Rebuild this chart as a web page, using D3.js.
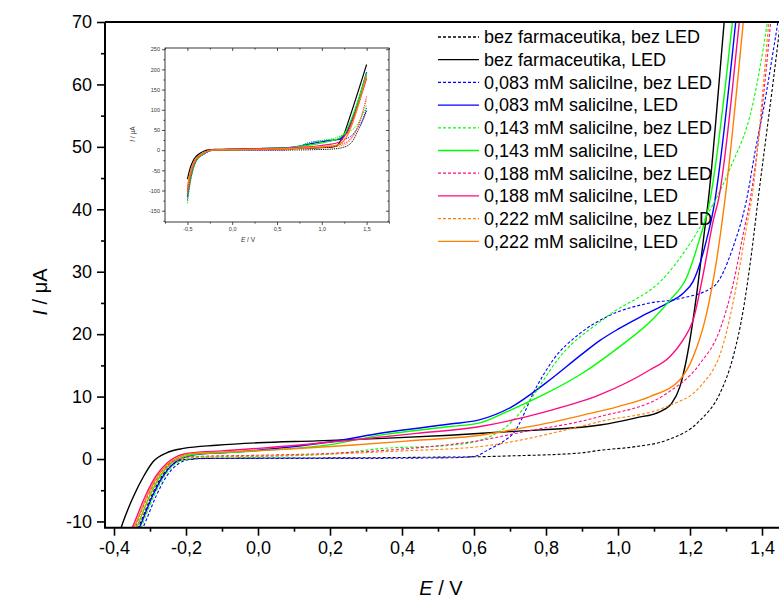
<!DOCTYPE html>
<html><head><meta charset="utf-8">
<script src="https://cdn.jsdelivr.net/npm/d3@7"></script>
<style>body{margin:0;background:#fff}svg text{font-family:Arial,"Liberation Sans",sans-serif}</style>
</head><body><svg id="c" width="779" height="601"></svg>
<script>
// ---- data ----
const seriesNames = [
  "bez farmaceutika, bez LED","bez farmaceutika, LED",
  "0,083 mM salicilne, bez LED","0,083 mM salicilne, LED",
  "0,143 mM salicilne, bez LED","0,143 mM salicilne, LED",
  "0,188 mM salicilne, bez LED","0,188 mM salicilne, LED",
  "0,222 mM salicilne, bez LED","0,222 mM salicilne, LED"];
const seriesColors = ["#000000","#000000","#0000ff","#0000ff","#00ff00","#00ff00","#ff0a80","#ff0a80","#ff8000","#ff8000"];
const seriesDashed = [true,false,true,false,true,false,true,false,true,false];

const bezFarmBezLED = [[-0.5,-108],[-0.47,-70],[-0.44,-44],[-0.41,-27],[-0.37,-16],[-0.325,-10],[-0.295,-5.8],[-0.265,-2.6],[-0.235,-0.8],[-0.205,-0.1],[-0.15,0.1],[0,0.15],[0.3,0.2],[0.5,0.3],[0.617,0.37],[0.7,0.5],[0.894,0.96],[0.95,1.4],[1.05,2.0],[1.135,3.0],[1.228,6.2],[1.283,10.5],[1.32,16.4],[1.348,23.9],[1.371,33],[1.39,42],[1.41,51],[1.43,60],[1.447,68],[1.5,98]];
const bezFarmLED = [[-0.5,-72],[-0.47,-45],[-0.44,-28],[-0.41,-17],[-0.376,-10.3],[-0.346,-6.0],[-0.318,-2.8],[-0.291,-0.4],[-0.254,1.0],[-0.207,1.7],[-0.115,2.2],[0,2.6],[0.163,2.9],[0.348,3.3],[0.533,3.8],[0.7,4.4],[0.95,5.45],[1.05,6.6],[1.117,7.6],[1.149,8.9],[1.172,11.6],[1.19,15.9],[1.219,26.6],[1.237,35],[1.251,41.5],[1.295,70],[1.5,212]];
const sal083BezLED = [[-0.5,-125],[-0.47,-80],[-0.44,-50],[-0.41,-30],[-0.37,-18],[-0.312,-10],[-0.282,-5.8],[-0.252,-2.6],[-0.222,-0.8],[-0.192,-0.1],[-0.14,0.1],[0,0.1],[0.256,0.1],[0.533,0.2],[0.6,0.4],[0.64,1.5],[0.681,2.8],[0.709,4.1],[0.774,11.6],[0.82,15.9],[0.894,20.1],[0.969,22.8],[1.08,24.9],[1.172,25.7],[1.265,27.6],[1.32,34],[1.357,41.5],[1.381,49.3],[1.408,57.3],[1.431,65.3],[1.443,69.6],[1.5,104]];
const sal083LED = [[-0.5,-115],[-0.47,-75],[-0.44,-46],[-0.41,-29],[-0.37,-17],[-0.322,-10],[-0.292,-5.8],[-0.262,-2.6],[-0.232,-0.6],[-0.202,0.3],[-0.16,0.8],[-0.1,1.0],[0,1.4],[0.208,2.8],[0.348,4.2],[0.533,5.6],[0.617,6.3],[0.7,8.2],[0.8,12.2],[0.9,16.8],[0.95,19.0],[1.0,20.8],[1.07,23],[1.135,24.9],[1.18,26.5],[1.209,28.5],[1.246,35.1],[1.265,40],[1.327,70],[1.5,193]];
const sal143BezLED = [[-0.5,-132],[-0.47,-85],[-0.44,-52],[-0.41,-32],[-0.37,-19],[-0.318,-10],[-0.288,-5.8],[-0.258,-2.6],[-0.228,-0.7],[-0.198,0.0],[-0.15,0.3],[0,0.4],[0.2,0.8],[0.348,1.7],[0.533,2.2],[0.617,3.0],[0.709,6.2],[0.756,9.5],[0.839,16.4],[0.969,22.8],[1.135,29.5],[1.237,38],[1.311,46.5],[1.375,57],[1.414,69.6],[1.5,112]];
const sal143LED = [[-0.5,-110],[-0.47,-70],[-0.44,-43],[-0.41,-27],[-0.37,-16],[-0.33,-10],[-0.30,-5.8],[-0.27,-2.6],[-0.24,-0.6],[-0.21,0.3],[-0.17,0.8],[-0.1,1.0],[0,1.3],[0.2,2.3],[0.348,3.9],[0.533,5.2],[0.617,5.8],[0.7,7.8],[0.8,10.5],[0.9,13.7],[1.0,17.8],[1.1,22.6],[1.145,25.5],[1.19,29],[1.228,35.5],[1.254,41],[1.318,70],[1.5,190]];
const sal188BezLED = [[-0.5,-115],[-0.47,-72],[-0.44,-45],[-0.41,-28],[-0.37,-16.5],[-0.335,-10],[-0.305,-5.8],[-0.275,-2.6],[-0.245,-0.7],[-0.215,0.1],[-0.17,0.4],[0,0.6],[0.2,0.9],[0.4,1.6],[0.62,3.0],[0.75,4.5],[0.894,6.0],[0.95,6.8],[1.135,10.5],[1.228,15.3],[1.283,20.7],[1.32,28.1],[1.348,36.1],[1.367,41.5],[1.424,70],[1.5,133]];
const sal188LED = [[-0.5,-100],[-0.47,-62],[-0.44,-38],[-0.41,-24],[-0.38,-15.5],[-0.342,-10],[-0.312,-5.8],[-0.282,-2.6],[-0.252,-0.6],[-0.222,0.5],[-0.18,1.0],[-0.1,1.3],[0,1.7],[0.256,3.0],[0.44,4.1],[0.617,5.2],[0.8,7.6],[0.95,10.3],[1.089,14.3],[1.144,16.4],[1.181,19.1],[1.209,22.3],[1.237,29.7],[1.265,38.3],[1.279,41.5],[1.337,70],[1.5,178]];
const sal222BezLED = [[-0.5,-100],[-0.47,-65],[-0.44,-40],[-0.41,-26],[-0.37,-16],[-0.33,-10],[-0.30,-5.8],[-0.27,-2.6],[-0.24,-0.7],[-0.21,0.1],[-0.16,0.4],[0,0.5],[0.2,0.8],[0.4,1.3],[0.617,2.0],[0.894,5.2],[0.95,6.0],[1.135,8.4],[1.228,11.6],[1.293,18.5],[1.33,28.1],[1.357,37.2],[1.371,41.5],[1.419,70],[1.5,125]];
const sal222LED = [[-0.5,-90],[-0.47,-58],[-0.44,-36],[-0.41,-23],[-0.375,-15],[-0.337,-10],[-0.307,-5.8],[-0.277,-2.6],[-0.247,-0.6],[-0.217,0.4],[-0.18,0.9],[-0.1,1.1],[0,1.35],[0.256,2.2],[0.44,3.0],[0.617,3.8],[0.7,4.6],[0.8,5.7],[0.9,7.0],[1.0,8.4],[1.089,10],[1.172,12.7],[1.209,16.4],[1.246,23.3],[1.274,31.9],[1.297,41.5],[1.348,70],[1.5,184]];

const seriesData = [bezFarmBezLED,bezFarmLED,sal083BezLED,sal083LED,sal143BezLED,sal143LED,sal188BezLED,sal188LED,sal222BezLED,sal222LED];

const xTicks = [-0.4,-0.2,0,0.2,0.4,0.6,0.8,1.0,1.2,1.4];
const xMinorTicks = [-0.3,-0.1,0.1,0.3,0.5,0.7,0.9,1.1,1.3];
const yTicks = [-10,0,10,20,30,40,50,60,70];
const yMinorTicks = [-5,5,15,25,35,45,55,65];
const insetXTicks = [-0.5,0,0.5,1.0,1.5];
const insetXMinor = [-0.75,-0.25,0.25,0.75,1.25,1.75];
const insetYTicks = [-150,-100,-50,0,50,100,150,200,250];
const insetYMinor = [-175,-125,-75,-25,25,75,125,175,225];

// ---- drawing ----
const svg = d3.select("#c");
const fmtX = d => d.toFixed(1).replace(".", ",");
const fmtY = d => String(d);

const L = 105, R = 780, T = 22, B = 527.7;
const x = d3.scaleLinear().domain([-0.425, 1.45]).range([L, R]);
const y = d3.scaleLinear().domain([-11, 70]).range([B, T]);

svg.append("defs").append("clipPath").attr("id","mclip")
  .append("rect").attr("x",L).attr("y",T).attr("width",R-L).attr("height",B-T);

const line = d3.line().x(d=>x(d[0])).y(d=>y(d[1])).curve(d3.curveMonotoneX);
const gLines = svg.append("g").attr("clip-path","url(#mclip)");
seriesData.forEach((s,i)=>{
  gLines.append("path").attr("d", line(s)).attr("fill","none")
    .attr("stroke", seriesColors[i])
    .attr("stroke-width", seriesDashed[i] ? 1.1 : 1.4)
    .attr("stroke-dasharray", seriesDashed[i] ? "3,2" : null);
});

function styleAxis(g){
  g.select(".domain").remove();
  g.selectAll("line").attr("stroke","#000").attr("stroke-width",1.6);
  g.selectAll("text").attr("fill","#000");
}
// main axes
const ax = svg.append("g").attr("transform",`translate(0,${B})`)
  .call(d3.axisBottom(x).tickValues(xTicks).tickFormat(fmtX).tickSize(8).tickPadding(6));
styleAxis(ax); ax.selectAll("text").attr("font-size",18).attr("font-family","Arial, Liberation Sans, sans-serif");
const axm = svg.append("g").attr("transform",`translate(0,${B})`)
  .call(d3.axisBottom(x).tickValues(xMinorTicks).tickFormat("").tickSize(4));
styleAxis(axm);
const ay = svg.append("g").attr("transform",`translate(${L},0)`)
  .call(d3.axisLeft(y).tickValues(yTicks).tickFormat(fmtY).tickSize(8).tickPadding(5));
styleAxis(ay); ay.selectAll("text").attr("font-size",18).attr("font-family","Arial, Liberation Sans, sans-serif");
const aym = svg.append("g").attr("transform",`translate(${L},0)`)
  .call(d3.axisLeft(y).tickValues(yMinorTicks).tickFormat("").tickSize(4));
styleAxis(aym);
svg.append("path").attr("d",`M${L},${T}H${R}M${L},${T}V${B}H${R}`)
  .attr("fill","none").attr("stroke","#000").attr("stroke-width",2);

// axis titles
const xt = svg.append("text").attr("x",441).attr("y",595).attr("text-anchor","middle").attr("font-size",20);
xt.append("tspan").attr("font-style","italic").text("E");
xt.append("tspan").text(" / V");
const yt = svg.append("text").attr("transform","translate(47,292) rotate(-90)").attr("text-anchor","middle").attr("font-size",20);
yt.append("tspan").attr("font-style","italic").text("I");
yt.append("tspan").text(" / μA");

// legend
seriesNames.forEach((n,i)=>{
  const yy = 37 + i*22.7;
  svg.append("line").attr("x1",438).attr("x2",479).attr("y1",yy).attr("y2",yy)
    .attr("stroke",seriesColors[i]).attr("stroke-width",1.3)
    .attr("stroke-dasharray", seriesDashed[i] ? "3,2" : null);
  svg.append("text").attr("x",484).attr("y",yy).attr("dy","0.35em")
    .attr("font-size",18).attr("fill","#000").text(n);
});

// ---- inset ----
const iL = 165, iR = 389, iT = 48, iB = 222;
const ix = d3.scaleLinear().domain([-0.75, 1.75]).range([iL, iR]);
const iy = d3.scaleLinear().domain([-178, 253]).range([iB, iT]);
svg.append("rect").attr("x",iL).attr("y",iT).attr("width",iR-iL).attr("height",iB-iT).attr("fill","#fff");
svg.select("defs").append("clipPath").attr("id","iclip")
  .append("rect").attr("x",iL).attr("y",iT).attr("width",iR-iL).attr("height",iB-iT);
const iline = d3.line().x(d=>ix(d[0])).y(d=>iy(d[1])).curve(d3.curveMonotoneX);
const gi = svg.append("g").attr("clip-path","url(#iclip)");
seriesData.forEach((s,i)=>{
  gi.append("path").attr("d", iline(s)).attr("fill","none")
    .attr("stroke", seriesColors[i])
    .attr("stroke-width", seriesDashed[i] ? 1.0 : 1.2)
    .attr("stroke-dasharray", seriesDashed[i] ? "1.2,1" : null);
});
function styleInset(g){
  g.select(".domain").remove();
  g.selectAll("line").attr("stroke","#222").attr("stroke-width",0.8);
  g.selectAll("text").attr("fill","#333").attr("font-size",5.5);
}
const iax = svg.append("g").attr("transform",`translate(0,${iB})`)
  .call(d3.axisBottom(ix).tickValues(insetXTicks).tickFormat(fmtX).tickSize(3).tickPadding(2));
styleInset(iax);
styleInset(svg.append("g").attr("transform",`translate(0,${iB})`)
  .call(d3.axisBottom(ix).tickValues(insetXMinor).tickFormat("").tickSize(1.6)));
styleInset(svg.append("g").attr("transform",`translate(0,${iT})`)
  .call(d3.axisBottom(ix).tickValues(insetXTicks).tickFormat("").tickSize(3)));
styleInset(svg.append("g").attr("transform",`translate(0,${iT})`)
  .call(d3.axisBottom(ix).tickValues(insetXMinor).tickFormat("").tickSize(1.6)));
const iay = svg.append("g").attr("transform",`translate(${iL},0)`)
  .call(d3.axisLeft(iy).tickValues(insetYTicks).tickFormat(fmtY).tickSize(3).tickPadding(2));
styleInset(iay);
styleInset(svg.append("g").attr("transform",`translate(${iL},0)`)
  .call(d3.axisLeft(iy).tickValues(insetYMinor).tickFormat("").tickSize(1.6)));
styleInset(svg.append("g").attr("transform",`translate(${iR},0)`)
  .call(d3.axisLeft(iy).tickValues(insetYTicks).tickFormat("").tickSize(3)));
styleInset(svg.append("g").attr("transform",`translate(${iR},0)`)
  .call(d3.axisLeft(iy).tickValues(insetYMinor).tickFormat("").tickSize(1.6)));
svg.append("rect").attr("x",iL).attr("y",iT).attr("width",iR-iL).attr("height",iB-iT)
  .attr("fill","none").attr("stroke","#222").attr("stroke-width",0.9);
const ixt = svg.append("text").attr("x",248).attr("y",242).attr("text-anchor","middle").attr("font-size",6.5).attr("fill","#333");
ixt.append("tspan").attr("font-style","italic").text("E");
ixt.append("tspan").text(" / V");
const iyt = svg.append("text").attr("transform","translate(135,134) rotate(-90)").attr("text-anchor","middle").attr("font-size",6.5).attr("fill","#333");
iyt.append("tspan").attr("font-style","italic").text("I");
iyt.append("tspan").text(" / μA");
</script></body></html>
